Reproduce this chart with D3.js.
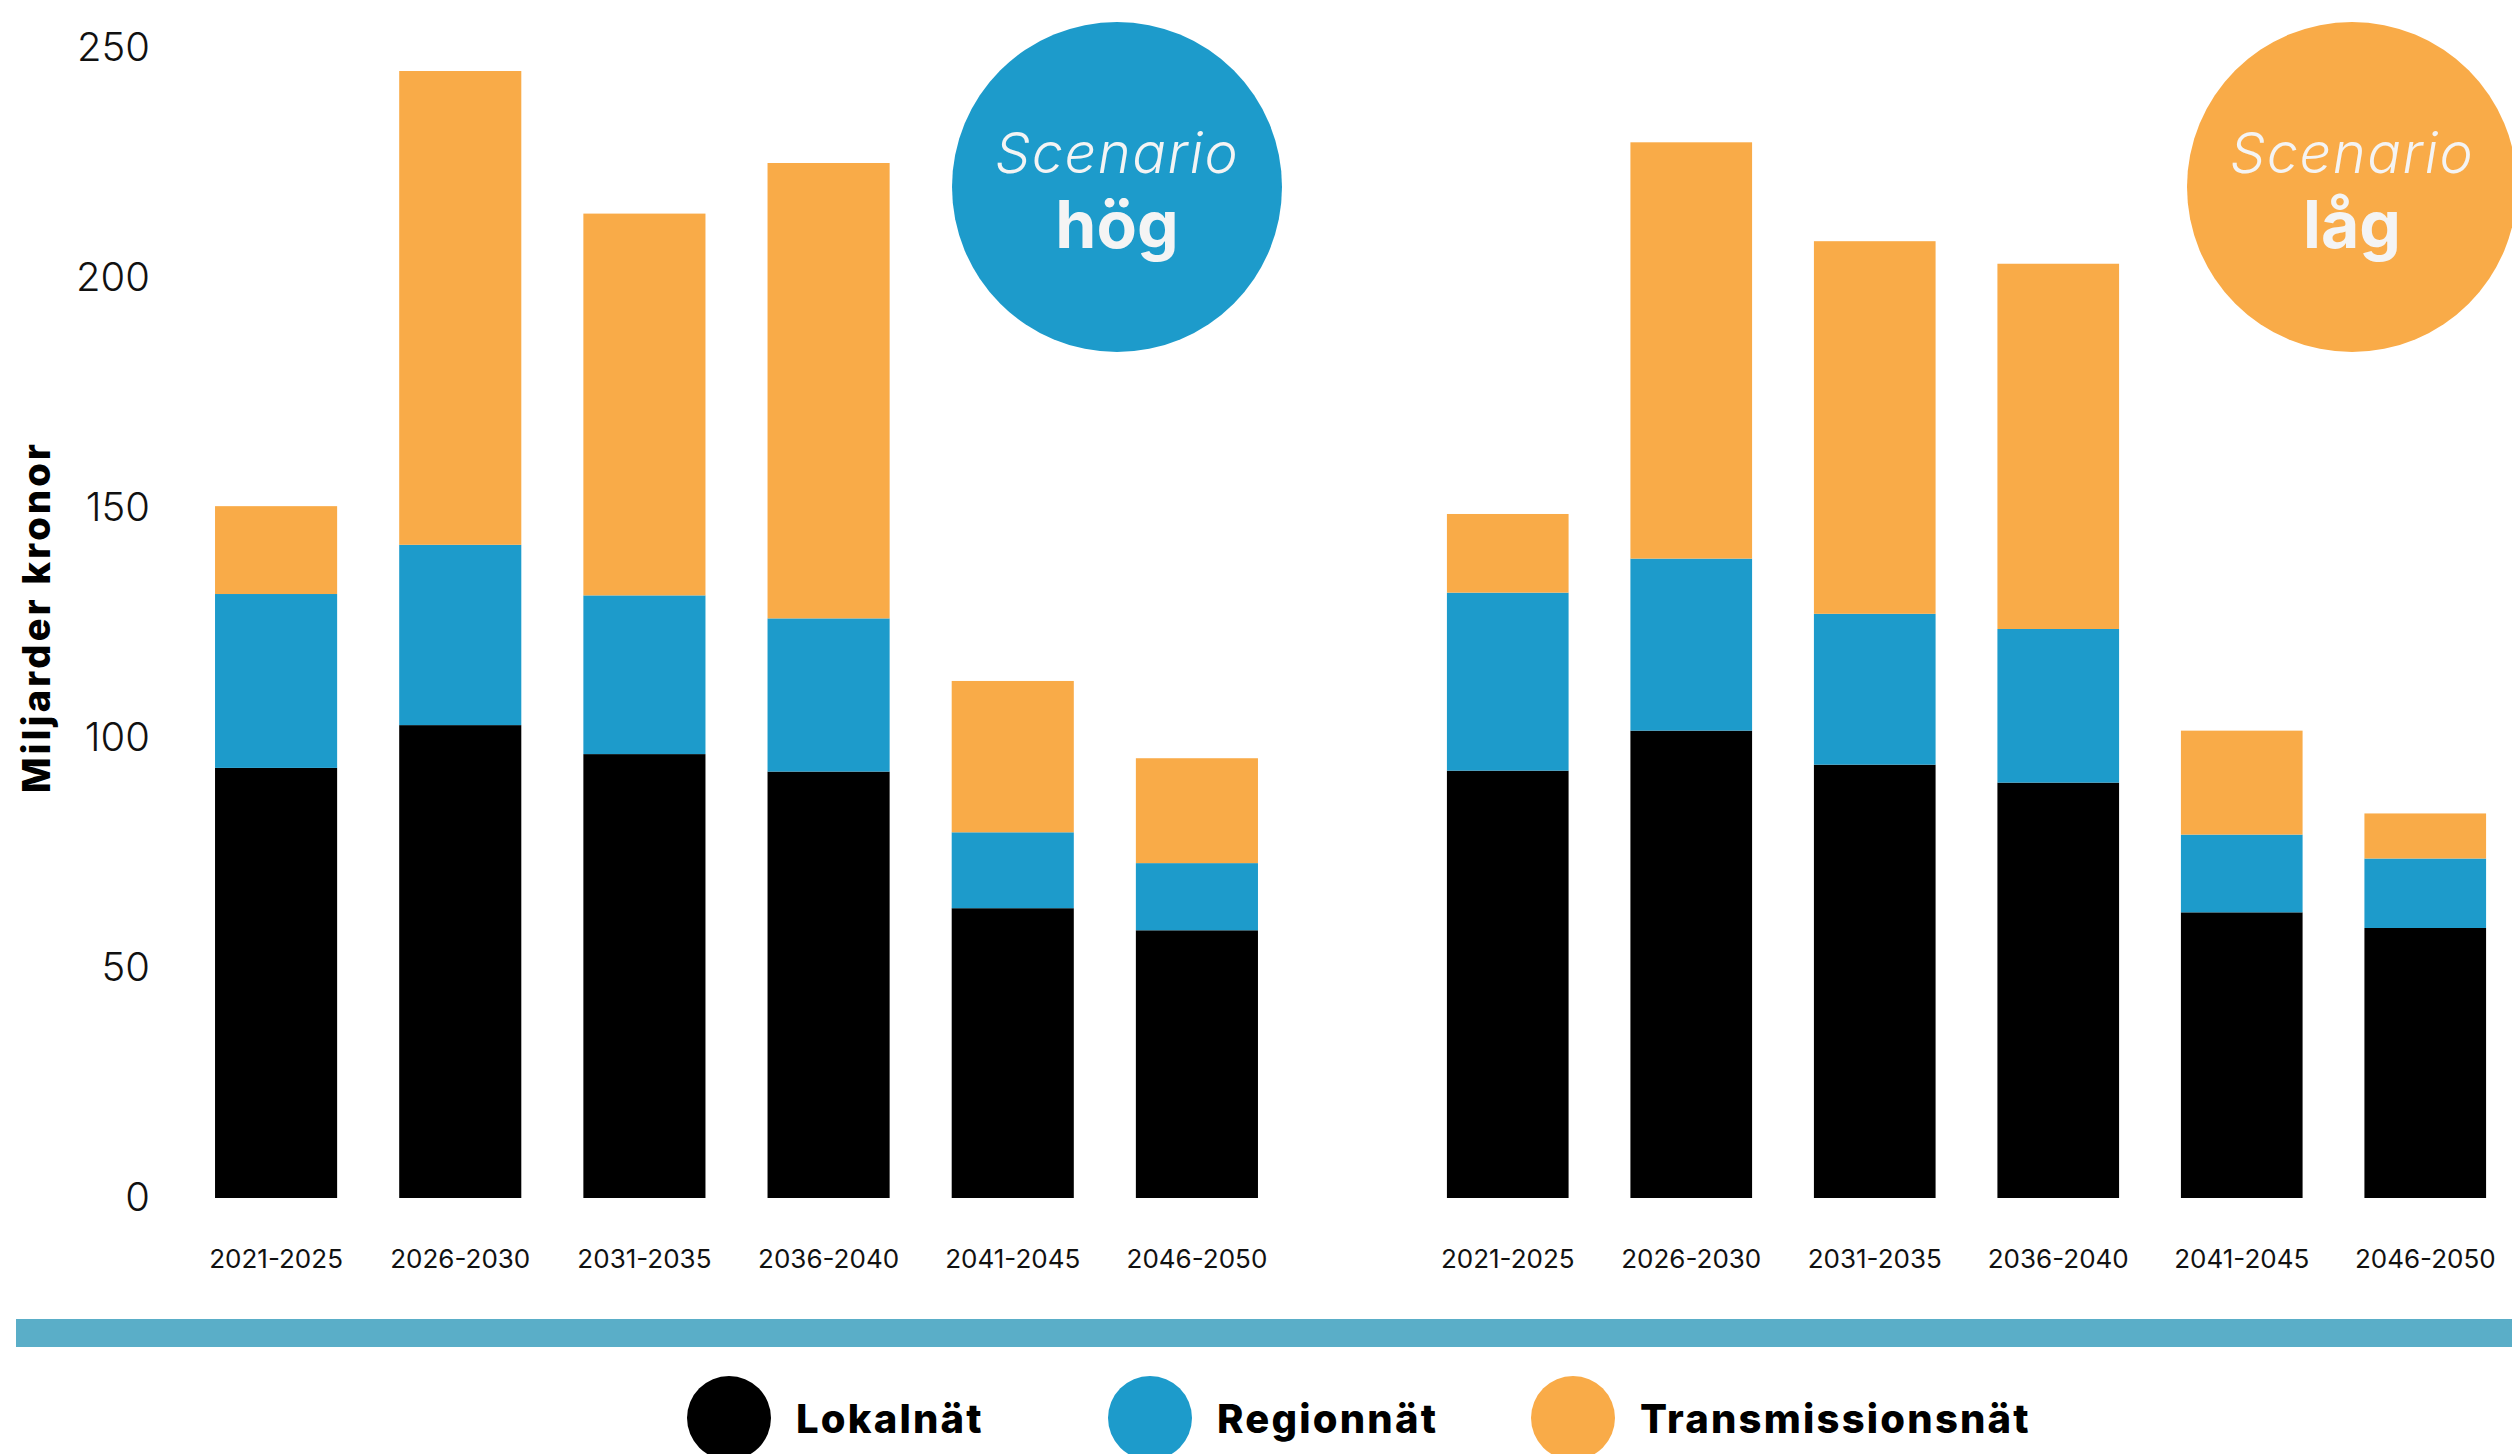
<!DOCTYPE html>
<html>
<head>
<meta charset="utf-8">
<script src="https://cdn.jsdelivr.net/npm/d3@7"></script>
<style>
  html, body { margin: 0; padding: 0; background: #ffffff; }
  svg { display: block; font-family: Inter, "Open Sans", "DejaVu Sans", sans-serif; }
</style>
</head>
<body>
<svg id="chart" width="2512" height="1454"></svg>
<script>
// ---- Data ----
const periods = ["2021-2025", "2026-2030", "2031-2035", "2036-2040", "2041-2045", "2046-2050"];
const seriesNames = ["Lokalnät", "Regionnät", "Transmissionsnät"];
const seriesColors = ["#000000", "#1d9bcb", "#f9ab48"];

// Scenario hög
const hogLokal    = [93.5, 102.8, 96.5, 92.7, 63.0, 58.2];
const hogRegion   = [37.8, 39.2, 34.5, 33.3, 16.5, 14.6];
const hogTrans    = [19.1, 103.0, 83.0, 99.0, 32.9, 22.8];

// Scenario låg
const lagLokal    = [92.9, 101.6, 94.2, 90.3, 62.1, 58.7];
const lagRegion   = [38.7, 37.4, 32.8, 33.4, 16.9, 15.1];
const lagTrans    = [17.1, 90.5, 81.0, 79.4, 22.6, 9.8];

const yTicks = [0, 50, 100, 150, 200, 250];
const yTitle = "Miljarder kronor";
const scenarioWord = "Scenario";
const scenarioNames = ["hög", "låg"];
const scenarioColors = ["#1d9bcb", "#f9ab48"];

// ---- Layout ----
const svg = d3.select("#chart");
const y = d3.scaleLinear().domain([0, 250]).range([1198, 48]);

const panels = [
  { name: scenarioNames[0], color: scenarioColors[0], series: [hogLokal, hogRegion, hogTrans], range: [184, 1289], circle: [1117, 187] },
  { name: scenarioNames[1], color: scenarioColors[1], series: [lagLokal, lagRegion, lagTrans], range: [1416, 2517], circle: [2352, 187] }
];

// Y axis
const yAxis = svg.append("g")
  .attr("transform", "translate(150,0)")
  .call(d3.axisLeft(y).tickValues(yTicks).tickSize(0).tickPadding(0));
yAxis.select(".domain").remove();
yAxis.selectAll("text")
  .attr("font-size", 40)
  .attr("font-weight", 300)
  .attr("fill", "#111")
  .style("font-family", "Inter, 'Open Sans', sans-serif");

svg.append("text")
  .attr("transform", "translate(36,617) rotate(-90)")
  .attr("text-anchor", "middle")
  .attr("dominant-baseline", "central")
  .attr("font-size", 38)
  .attr("font-weight", 800)
  .attr("letter-spacing", 3.2)
  .attr("fill", "#000")
  .text(yTitle);

panels.forEach(p => {
  const x = d3.scaleBand().domain(periods).range(p.range).paddingInner(0.337).paddingOuter(0.1685);

  const rows = periods.map((per, i) => {
    const o = { period: per };
    seriesNames.forEach((s, k) => { o[s] = p.series[k][i]; });
    return o;
  });
  const stacked = d3.stack().keys(seriesNames)(rows);

  const g = svg.append("g");
  g.selectAll("g.layer")
    .data(stacked)
    .join("g")
    .attr("class", "layer")
    .attr("fill", (d, i) => seriesColors[i])
    .selectAll("rect")
    .data(d => d)
    .join("rect")
    .attr("x", d => x(d.data.period))
    .attr("width", x.bandwidth())
    .attr("y", d => y(d[1]))
    .attr("height", d => y(d[0]) - y(d[1]));

  const xAxis = svg.append("g")
    .attr("transform", "translate(0,1198)")
    .call(d3.axisBottom(x).tickSize(0).tickPadding(52));
  xAxis.select(".domain").remove();
  xAxis.selectAll("text")
    .attr("font-size", 26)
    .attr("font-weight", 400)
    .attr("fill", "#111")
    .style("font-family", "Inter, 'Open Sans', sans-serif");

  // Scenario badge
  const c = svg.append("g").attr("transform", `translate(${p.circle[0]},${p.circle[1]})`);
  c.append("circle").attr("r", 165).attr("fill", p.color);
  c.append("text")
    .attr("y", -14)
    .attr("text-anchor", "middle")
    .attr("font-size", 56)
    .attr("font-weight", 300)
    .attr("font-style", "italic")
    .attr("letter-spacing", 1.5)
    .attr("fill", "#f4f4f4")
    .text(scenarioWord);
  c.append("text")
    .attr("y", 61)
    .attr("text-anchor", "middle")
    .attr("font-size", 66)
    .attr("font-weight", 700)
    .attr("fill", "#f4f4f4")
    .text(p.name);
});

// Divider stripe
svg.append("rect")
  .attr("x", 16).attr("y", 1319)
  .attr("width", 2512 - 16).attr("height", 28)
  .attr("fill", "#5aaec8");

// Legend
const legendX = [729, 1150, 1573];
const legend = svg.append("g");
seriesNames.forEach((s, i) => {
  const lg = legend.append("g").attr("transform", `translate(${legendX[i]},1418)`);
  lg.append("circle").attr("r", 42).attr("fill", seriesColors[i]);
  lg.append("text")
    .attr("x", 67)
    .attr("dominant-baseline", "central")
    .attr("font-size", 40)
    .attr("font-weight", 800)
    .attr("letter-spacing", 2.2)
    .attr("fill", "#000")
    .text(s);
});
</script>
</body>
</html>
